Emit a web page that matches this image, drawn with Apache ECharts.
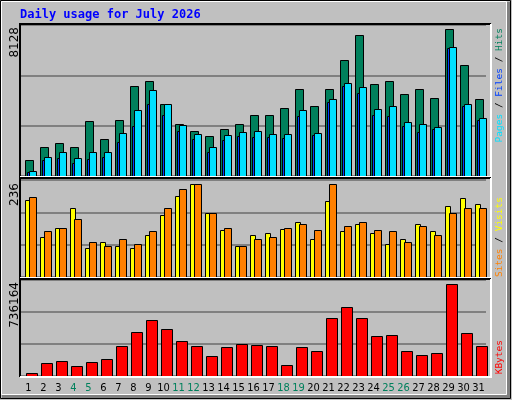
<!DOCTYPE html>
<html><head><meta charset="utf-8">
<script src="https://cdn.jsdelivr.net/npm/echarts@6/dist/echarts.min.js"></script>
<style>html,body{margin:0;padding:0;background:#fff}#c{width:512px;height:400px}</style>
</head><body><div id="c"></div>
<script>
const days = ['1','2','3','4','5','6','7','8','9','10','11','12','13','14','15','16','17','18','19','20','21','22','23','24','25','26','27','28','29','30','31'];
const weekend = ['4','5','11','12','18','19','25','26'];
const hits = [885,1604,1825,1604,3042,2046,3097,4977,5254,3982,2876,2489,2212,2599,2876,3373,3373,3760,4811,3871,4811,6415,7797,5088,5254,4535,4811,4313,8128,6138,4258];
const files = [277,1051,1327,995,1327,1327,2378,3650,4756,3982,2820,2323,1604,2267,2433,2489,2323,2323,3650,2378,4258,5143,4922,3705,3871,2986,2876,2710,7134,3982,3207];
const pages = [221,885,995,719,940,1051,1880,2765,3982,3373,2489,2046,1327,1991,2212,2157,2157,2101,3318,2267,4092,4977,4590,3373,3318,2765,2433,2599,7078,3871,3097];
const sites = [195,101,126,175,75,88,80,75,108,159,205,236,164,119,78,106,111,121,139,98,193,116,136,111,85,98,136,116,182,200,185];
const visits = [203,116,124,147,90,80,96,83,116,175,223,236,162,124,80,98,103,124,136,119,236,129,139,119,116,88,131,108,164,175,175];
const kbytes = [27384,107924,124032,83762,115978,132086,236788,349544,446192,373706,277058,236788,156248,228734,252896,244842,236788,91816,228734,196518,462300,550894,462300,317328,325382,196518,164302,180410,736164,341490,236788];
const maxLabels = ['8128','236','736164'];

function barSeries(name, data, gi, a, b, color) {
  return {
    type: 'custom', name, xAxisIndex: gi, yAxisIndex: gi,
    data: data.map((v, i) => [i, v]),
    renderItem: function (params, api) {
      const i = api.value(0);
      const top = api.coord([i, api.value(1)]);
      const base = api.coord([i, 0]);
      const x0 = base[0] - api.size([1, 0])[0] / 2;
      return {
        type: 'rect',
        shape: { x: Math.round(x0 + a) + 0.5, y: Math.round(top[1]) + 0.5, width: Math.round(b - a), height: Math.round(base[1] - top[1]) },
        style: { fill: color, stroke: '#000', lineWidth: 1 }
      };
    },
    z: 3
  };
}
const grids = [
  { left: 21, width: 465, top: 25, height: 151 },
  { left: 21, width: 465, top: 180, height: 97 },
  { left: 21, width: 465, top: 280, height: 96 }
];
const maxes = [8366, 247, 768380];
const xAxes = grids.map((g, i) => ({
  type: 'category', gridIndex: i, data: days, boundaryGap: true,
  axisLine: { show: false }, axisTick: { show: false },
  axisLabel: i === 2 ? {
    show: true, fontFamily: 'DejaVu Sans Condensed', fontSize: 11, margin: 7, interval: 0,
    color: (v) => weekend.includes(v) ? '#00805C' : '#000'
  } : { show: false }
}));
const yAxes = grids.map((g, i) => ({
  type: 'value', gridIndex: i, min: 0, max: maxes[i], interval: maxes[i] / 3,
  axisLabel: { show: false }, axisLine: { show: false }, axisTick: { show: false },
  splitLine: { show: true, lineStyle: { color: '#808080', width: 2 } }
}));
const panelRects = [[20, 24, 471, 153], [20, 178, 471, 100], [20, 279, 471, 98]];
const graphics = [];
graphics.push({ type: 'rect', shape: { x: 0, y: 0, width: 512, height: 400 }, style: { fill: '#C0C0C0' }, z: -10 });
graphics.push({ type: 'rect', shape: { x: 0.5, y: 0.5, width: 510, height: 398 }, style: { fill: null, stroke: '#000', lineWidth: 1 }, z: -9 });
graphics.push({ type: 'rect', shape: { x: 1.5, y: 1.5, width: 505, height: 393 }, style: { fill: null, stroke: '#fff', lineWidth: 1 }, z: -9 });
graphics.push({ type: 'rect', shape: { x: 507, y: 2, width: 3, height: 396 }, style: { fill: '#808080' }, z: -9 });
graphics.push({ type: 'rect', shape: { x: 2, y: 395, width: 508, height: 3 }, style: { fill: '#808080' }, z: -9 });
panelRects.forEach(r => {
  graphics.push({ type: 'polyline', shape: { points: [[r[0], r[1] + r[3]], [r[0], r[1]], [r[0] + r[2], r[1]]] }, style: { stroke: '#000', lineWidth: 2, fill: null }, z: 5 });
  graphics.push({ type: 'polyline', shape: { points: [[r[0] + r[2], r[1]], [r[0] + r[2], r[1] + r[3]], [r[0], r[1] + r[3]]] }, style: { stroke: '#fff', lineWidth: 2, fill: null }, z: 5 });
});
graphics.push({ type: 'text', x: 20, y: 15, style: { text: 'Daily usage for July 2026', fill: '#0000FF', font: 'bold 12px "DejaVu Sans Mono"', textVerticalAlign: 'middle' }, z: 6 });
[[15, 27], [15, 183], [15, 282]].forEach((p, i) => {
  graphics.push({ type: 'text', x: p[0], y: p[1], rotation: Math.PI / 2,
    style: { text: maxLabels[i], fill: '#000', font: '12px "DejaVu Sans"', textAlign: 'right', textVerticalAlign: 'middle' }, z: 6 });
});
function sideLabel(y, parts) {
  graphics.push({ type: 'text', x: 500, y: y, rotation: Math.PI / 2,
    style: { rich: parts.rich, text: parts.text, font: '9px "DejaVu Sans Mono"', textAlign: 'right', textVerticalAlign: 'middle' }, z: 6 });
}
const rs = { fontFamily: 'DejaVu Sans Mono', fontSize: 9.5 };
sideLabel(28, { text: '{p|Pages}{s| / }{f|Files}{s| / }{h|Hits}', rich: {
  p: { ...rs, fill: '#00E0FF' }, f: { ...rs, fill: '#0040FF' }, h: { ...rs, fill: '#00805C' }, s: { ...rs, fill: '#000' } } });
sideLabel(197, { text: '{a|Sites}{s| / }{b|Visits}', rich: {
  a: { ...rs, fill: '#FF8000' }, b: { ...rs, fill: '#FFFF00' }, s: { ...rs, fill: '#000' } } });
sideLabel(340, { text: '{k|KBytes}', rich: { k: { ...rs, fill: '#FF0000' } } });

const chart = echarts.init(document.getElementById('c'), null, { renderer: 'canvas' });
chart.setOption({
  animation: false,
  backgroundColor: '#C0C0C0',
  grid: grids, xAxis: xAxes, yAxis: yAxes,
  graphic: graphics,
  series: [
    barSeries('Hits', hits, 0, 4, 11.7, '#00805C'),
    barSeries('Files', files, 0, 8.3, 15.7, '#00E0FF'),
    barSeries('Pages', pages, 0, 5.7, 8, '#0040FF'),
    barSeries('Sites', sites, 1, 4.3, 9, '#FFFF00'),
    barSeries('Visits', visits, 1, 8.3, 15.7, '#FF8000'),
    barSeries('KBytes', kbytes, 2, 5, 15.7, '#FF0000')
  ]
});
</script></body></html>
